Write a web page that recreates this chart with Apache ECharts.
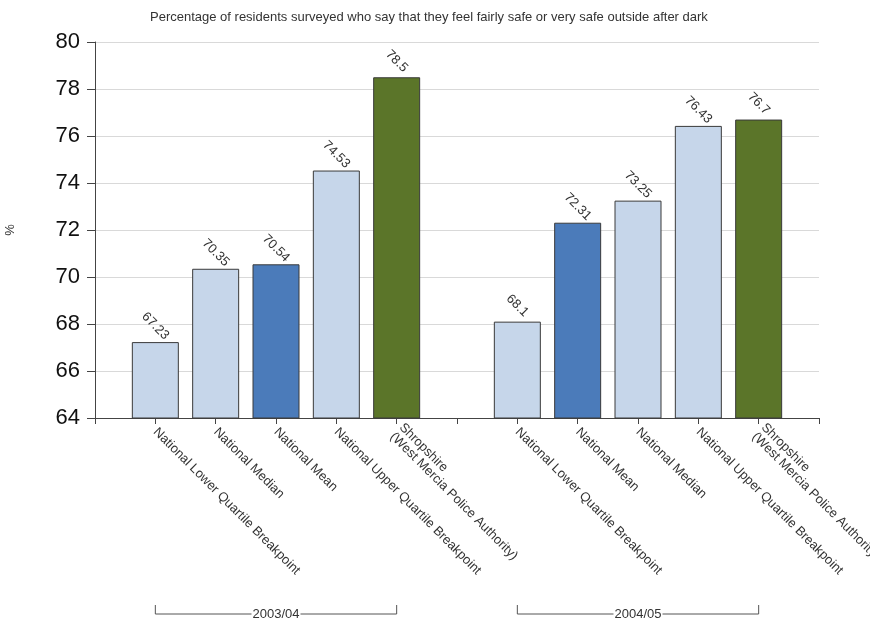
<!doctype html>
<html lang="en">
<head>
	<meta charset="UTF-8">
	<title>Feel safe outside after dark</title>
	<script src="https://cdn.jsdelivr.net/npm/echarts@6/dist/echarts.min.js"></script>
	<style>
		html, body { margin: 0; padding: 0; background: #fff; }
		#main { width: 870px; height: 623px; }
	</style>
</head>
<body>
<div id="main"></div>
<script type="text/javascript">
	// blank slots at both ends and between the two years
	var categories = ['', 'National Lower Quartile Breakpoint', 'National Median', 'National Mean',
		'National Upper Quartile Breakpoint', 'Shropshire\n(West Mercia Police Authority)', '',
		'National Lower Quartile Breakpoint', 'National Mean', 'National Median',
		'National Upper Quartile Breakpoint', 'Shropshire\n(West Mercia Police Authority)', ''];
	var values = ['-', 67.23, 70.35, 70.54, 74.53, 78.5, '-', 68.1, 72.31, 73.25, 76.43, 76.7, '-'];
	var kinds = ['', 'nat', 'nat', 'mean', 'nat', 'shrop', '', 'nat', 'mean', 'nat', 'nat', 'shrop', ''];
	var groupLabels = ['2003/04', '2004/05'];
	var groupFrom = [1, 7];
	var groupTo = [5, 11];
	var yTicks = { min: 64, max: 80, step: 2 };

	var kindColor = { nat: '#c6d6ea', mean: '#4b7bba', shrop: '#5b7529' };
	var font = '"Liberation Sans", Arial, sans-serif';

	var myChart = echarts.init(document.getElementById('main'));

	var barData = values.map(function (v, i) {
		return {
			value: v,
			itemStyle: { color: kindColor[kinds[i]] || '#ccc' }
		};
	});

	var option = {
		animation: false,
		title: {
			text: 'Percentage of residents surveyed who say that they feel fairly safe or very safe outside after dark',
			left: 145,
			top: 6,
			textStyle: { fontFamily: font, fontSize: 13, fontWeight: 'normal', color: '#333' }
		},
		grid: { left: 95, right: 51, top: 42, bottom: 205, containLabel: false, outerBoundsMode: 'none' },
		xAxis: {
			type: 'category',
			data: categories,
			boundaryGap: false,
			axisLine: { lineStyle: { color: '#444', width: 1 } },
			axisTick: { interval: 0, length: 6, lineStyle: { color: '#444' } },
			axisLabel: {
				interval: 0,
				rotate: -45,
				margin: 12,
				fontFamily: font,
				fontSize: 13,
				color: '#333'
			},
			splitLine: { show: false }
		},
		yAxis: {
			type: 'value',
			min: yTicks.min,
			max: yTicks.max,
			interval: yTicks.step,
			name: '%',
			nameLocation: 'middle',
			nameRotate: 90,
			nameGap: 78,
			nameTextStyle: { fontFamily: font, fontSize: 13, color: '#333' },
			axisLine: { show: true, lineStyle: { color: '#444' } },
			axisTick: { show: true, length: 8, lineStyle: { color: '#444' } },
			axisLabel: { fontFamily: font, fontSize: 22, color: '#111', margin: 15 },
			splitLine: { lineStyle: { color: '#d9d9d9' } }
		},
		series: [{
			type: 'bar',
			data: barData,
			barWidth: 47,
			itemStyle: { borderColor: '#3a3a3a', borderWidth: 1 },
			label: {
				show: true,
				position: 'top',
				rotate: -45,
				distance: 16,
				align: 'center',
				verticalAlign: 'middle',
				fontFamily: font,
				fontSize: 13,
				color: '#333'
			}
		}]
	};

	myChart.setOption(option);

	// year brackets under the category labels
	var graphics = [];
	var yLine = 614, yTop = 605;
	for (var g = 0; g < groupLabels.length; g++) {
		var x1 = myChart.convertToPixel({ xAxisIndex: 0 }, groupFrom[g]);
		var x2 = myChart.convertToPixel({ xAxisIndex: 0 }, groupTo[g]);
		graphics.push({
			type: 'polyline',
			shape: { points: [[x1, yTop], [x1, yLine], [x2, yLine], [x2, yTop]] },
			style: { stroke: '#555', lineWidth: 1, fill: null }
		});
		graphics.push({
			type: 'text',
			x: (x1 + x2) / 2,
			y: yLine,
			style: {
				text: groupLabels[g],
				align: 'center',
				verticalAlign: 'middle',
				fontFamily: font,
				fontSize: 13,
				fill: '#333',
				backgroundColor: '#fff',
				padding: [0, 1]
			}
		});
	}
	myChart.setOption({ graphic: graphics });
</script>
</body>
</html>
